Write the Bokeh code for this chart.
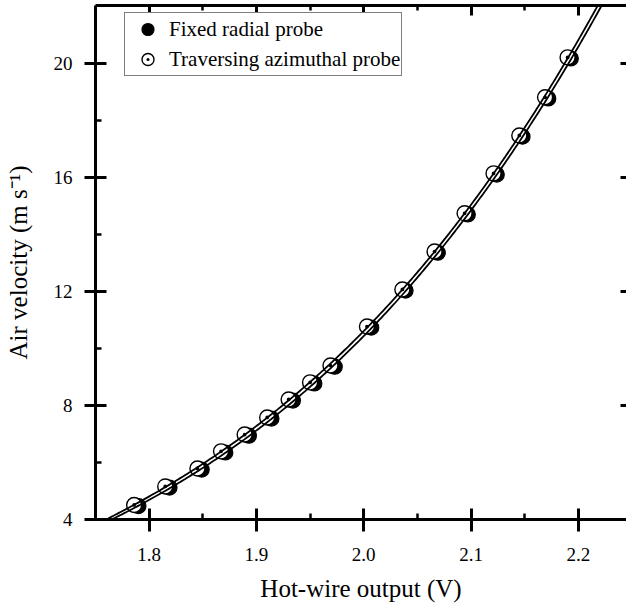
import numpy as np
from bokeh.plotting import figure
from bokeh.models import (LinearAxis, FixedTicker, Range1d, Legend, LegendItem,
                          PrintfTickFormatter, CustomLabelingPolicy)
from bokeh.embed import file_html
from bokeh.resources import INLINE

# ---- data ----
voltage_traversing = [1.786, 1.815, 1.845, 1.867, 1.889, 1.910, 1.930, 1.950, 1.969,
                      2.003, 2.036, 2.066, 2.094, 2.121, 2.145, 2.169, 2.190]
velocity_traversing = [4.51, 5.16, 5.79, 6.39, 6.98, 7.58, 8.21, 8.81, 9.40,
                       10.77, 12.07, 13.40, 14.74, 16.14, 17.47, 18.81, 20.21]
voltage_fixed = [1.790, 1.819, 1.849, 1.871, 1.893, 1.914, 1.934, 1.954, 1.973,
                 2.007, 2.039, 2.069, 2.097, 2.124, 2.148, 2.172, 2.193]
velocity_fixed = [4.47, 5.12, 5.75, 6.35, 6.94, 7.54, 8.17, 8.77, 9.36,
                  10.73, 12.03, 13.36, 14.70, 16.10, 17.43, 18.77, 20.17]

x_major_ticks = [1.8, 1.9, 2.0, 2.1, 2.2]
x_minor_ticks = [1.85, 1.95, 2.05, 2.15]
y_major_ticks = [4, 8, 12, 16, 20]
y_minor_ticks = [6, 10, 14, 18]

series_labels = ["Fixed radial probe", "Traversing azimuthal probe"]
x_title = "Hot-wire output (V)"
y_title = "Air velocity (m s\u207b\u00b9)"

FONT = "'Liberation Serif', 'Times New Roman', serif"

p = figure(width=626, height=604, x_range=Range1d(1.75, 2.2449), y_range=Range1d(4, 22.03),
           output_backend="svg", toolbar_location=None,
           x_axis_location=None, y_axis_location=None,
           min_border_left=95, min_border_right=0, min_border_top=5, min_border_bottom=85)
p.outline_line_color = None
p.xgrid.grid_line_color = None
p.ygrid.grid_line_color = None
p.background_fill_color = "white"
p.border_fill_color = "white"


def style_axis(ax, tick_in, tick_out, minor_in, minor_out):
    ax.axis_line_width = 3
    ax.axis_line_color = "black"
    ax.major_tick_line_width = 3
    ax.minor_tick_line_width = 2.5
    ax.major_tick_line_color = "black"
    ax.minor_tick_line_color = "black"
    ax.major_tick_in = tick_in
    ax.major_tick_out = tick_out
    ax.minor_tick_in = minor_in
    ax.minor_tick_out = minor_out


def hide_labels(ax):
    ax.major_label_text_font_size = "0px"
    ax.major_label_standoff = 0
    ax.major_label_policy = CustomLabelingPolicy(
        code="for (const i of indices) { if (i < 0) { yield i } }")


xt = FixedTicker(ticks=x_major_ticks, minor_ticks=x_minor_ticks)
yt = FixedTicker(ticks=y_major_ticks, minor_ticks=y_minor_ticks)

left = LinearAxis(ticker=yt, axis_label=y_title)
style_axis(left, 11, 11, 6, 0)
left.major_label_text_font = FONT
left.major_label_text_font_size = "19px"
left.major_label_text_color = "black"
left.major_label_standoff = 12
left.axis_label_text_font = FONT
left.axis_label_text_font_size = "25px"
left.axis_label_text_font_style = "normal"
left.axis_label_text_color = "black"
left.axis_label_standoff = 19
p.add_layout(left, "left")

bottom = LinearAxis(ticker=xt, axis_label=x_title, formatter=PrintfTickFormatter(format="%.1f"))
style_axis(bottom, 11, 12, 6, 0)
bottom.major_label_text_font = FONT
bottom.major_label_text_font_size = "19px"
bottom.major_label_text_color = "black"
bottom.major_label_standoff = 16
bottom.axis_label_text_font = FONT
bottom.axis_label_text_font_size = "25px"
bottom.axis_label_text_font_style = "normal"
bottom.axis_label_text_color = "black"
bottom.axis_label_standoff = 11
p.add_layout(bottom, "below")

top = LinearAxis(ticker=xt)
style_axis(top, 10, 0, 5, 0)
hide_labels(top)
p.add_layout(top, "above")

right = LinearAxis(ticker=yt)
style_axis(right, 6, 0, 0, 0)
right.axis_line_color = None
right.minor_tick_line_color = None
hide_labels(right)
p.add_layout(right, "right")

# markers
r_fixed = p.scatter(voltage_fixed, velocity_fixed, size=15, marker="circle",
                    fill_color="black", line_color="black", line_width=1.2)
r_trav = p.scatter(voltage_traversing, velocity_traversing, size=15, marker="circle_dot",
                   fill_color="white", line_color="black", line_width=1.4)

# calibration fits (least squares polynomial through each series)
grid = np.linspace(1.74, 2.24, 300)
c_fixed = np.polyfit(voltage_fixed, velocity_fixed, 3)
c_trav = np.polyfit(voltage_traversing, velocity_traversing, 3)
p.line(grid, np.polyval(c_fixed, grid), line_color="black", line_width=1.8)
p.line(grid, np.polyval(c_trav, grid), line_color="black", line_width=1.8)

legend = Legend(items=[LegendItem(label=series_labels[0], renderers=[r_fixed]),
                       LegendItem(label=series_labels[1], renderers=[r_trav])],
                location=(29, 443))
legend.label_text_font = FONT
legend.label_text_font_size = "21px"
legend.label_text_color = "black"
legend.glyph_width = 43
legend.glyph_height = 30
legend.label_height = 30
legend.label_standoff = 0
legend.padding = 1
legend.spacing = -3
legend.margin = 0
legend.border_line_color = "black"
legend.border_line_width = 1.5
legend.background_fill_color = "white"
legend.background_fill_alpha = 1.0
p.add_layout(legend)

open("out.html", "w").write(file_html(p, INLINE))
